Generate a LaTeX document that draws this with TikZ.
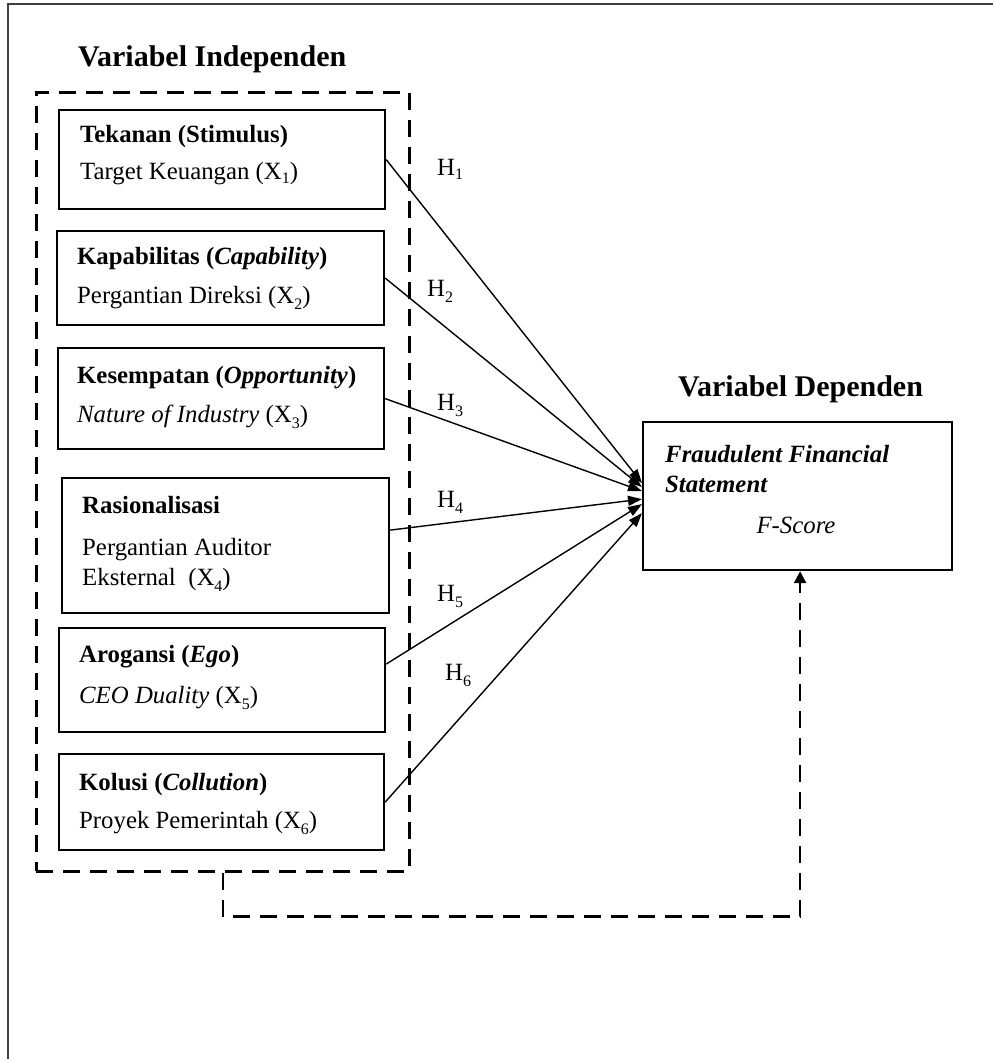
\documentclass[tikz,border=0pt]{standalone}
\usepackage{fontspec}
\setmainfont{Liberation Serif}
\usetikzlibrary{arrows.meta,calc}
\newcommand{\sbs}[1]{\raisebox{-0.32ex}{\fontsize{16}{16}\selectfont #1}}
\newcommand{\sbl}[1]{\raisebox{-0.6ex}{\fontsize{16}{16}\selectfont #1}}
\begin{document}
\begin{tikzpicture}[x=1pt,y=-1pt,
  box/.style={draw, line width=2.2pt, anchor=north west, inner sep=0pt},
  txt/.style={anchor=base west, inner sep=0pt, font=\fontsize{24.8}{28}\selectfont},
  ttl/.style={anchor=base west, inner sep=0pt, font=\fontsize{30}{34}\selectfont\bfseries},
  arr/.style={line width=1.4pt, -{Triangle[length=14pt,width=10pt]}},
  dsh/.style={line width=2.6pt, dash pattern=on 17pt off 10pt}]
\useasboundingbox (0,0) rectangle (993,1059);
% outer frame (partial)
\draw[line width=1.6pt, black!75] (8,1059) -- (8,4) -- (993,4);

% titles
\node[ttl] (ti) at (78,67) {Variabel Independen};
\node[ttl] (td) at (678,396) {Variabel Dependen};

% dashed group box
\node[box, dsh, minimum width=373pt, minimum height=779pt] (dbox) at (35,91) {};

% independent boxes
\node[box, minimum width=326pt, minimum height=99pt] (box1) at (58,109) {};
\node[box, minimum width=327pt, minimum height=94pt] (box2) at (56,230) {};
\node[box, minimum width=326pt, minimum height=101pt] (box3) at (57,347) {};
\node[box, minimum width=327pt, minimum height=135pt] (box4) at (61,477) {};
\node[box, minimum width=326pt, minimum height=104pt] (box5) at (58,627) {};
\node[box, minimum width=325pt, minimum height=96pt] (box6) at (58,753) {};

% dependent box
\node[box, minimum width=309pt, minimum height=148pt] (F) at (642,421) {};

% texts
\node[txt] (t1a) at (80,143) {\textbf{Tekanan (Stimulus)}};
\node[txt] (t1b) at (80,180) {Target Keuangan (X\sbs{1})};
\node[txt] (t2a) at (77,265) {\textbf{Kapabilitas (\textit{Capability})}};
\node[txt] (t2b) at (77,303) {Pergantian Direksi (X\sbl{2})};
\node[txt] (t3a) at (77,383) {\textbf{Kesempatan (\textit{Opportunity})}};
\node[txt] (t3b) at (77,422) {\textit{Nature of Industry} (X\sbl{3})};
\node[txt] (t4a) at (82,513) {\textbf{Rasionalisasi}};
\node[txt] (t4b) at (82,555) {Pergantian Auditor};
\node[txt] (t4c) at (82,585) {Eksternal\ \ (X\sbl{4})};
\node[txt] (t5a) at (79,662) {\textbf{Arogansi (\textit{Ego})}};
\node[txt] (t5b) at (79,703) {\textit{CEO Duality} (X\sbl{5})};
\node[txt] (t6a) at (79,790) {\textbf{Kolusi (\textit{Collution})}};
\node[txt] (t6b) at (79,828) {Proyek Pemerintah (X\sbl{6})};

\node[txt] (f1) at (665,462) {\textbf{\textit{Fraudulent Financial}}};
\node[txt] (f2) at (665,492) {\textbf{\textit{Statement}}};
\node[txt, anchor=base] (f3) at (796,533) {\textit{F-Score}};

% hypothesis labels
\node[txt] (h1) at (437,176) {H\sbs{1}};
\node[txt] (h2) at (427,296) {H\sbl{2}};
\node[txt] (h3) at (437,410) {H\sbl{3}};
\node[txt] (h4) at (437,507) {H\sbl{4}};
\node[txt] (h5) at (437,601) {H\sbl{5}};
\node[txt] (h6) at (445,680) {H\sbl{6}};

% connectors
\draw[arr] (box1.east) -- ([yshift=13pt]F.west);
\draw[arr] (box2.east) -- ([yshift=9pt]F.west);
\draw[arr] (box3.east) -- ([yshift=5pt]F.west);
\draw[arr] ([yshift=15.5pt]box4.east) -- ([yshift=-3pt]F.west);
\draw[arr] ([yshift=16pt]box5.east) -- ([yshift=-8pt]F.west);
\draw[arr] (box6.east) -- ([yshift=-17pt]F.west);

% simultaneous dashed connector
\draw[dsh, -{Triangle[length=12pt,width=12pt]}] ([xshift=188pt]dbox.south west) -- ++(0,44) -| ([xshift=2.5pt]F.south);
\end{tikzpicture}
\end{document}
